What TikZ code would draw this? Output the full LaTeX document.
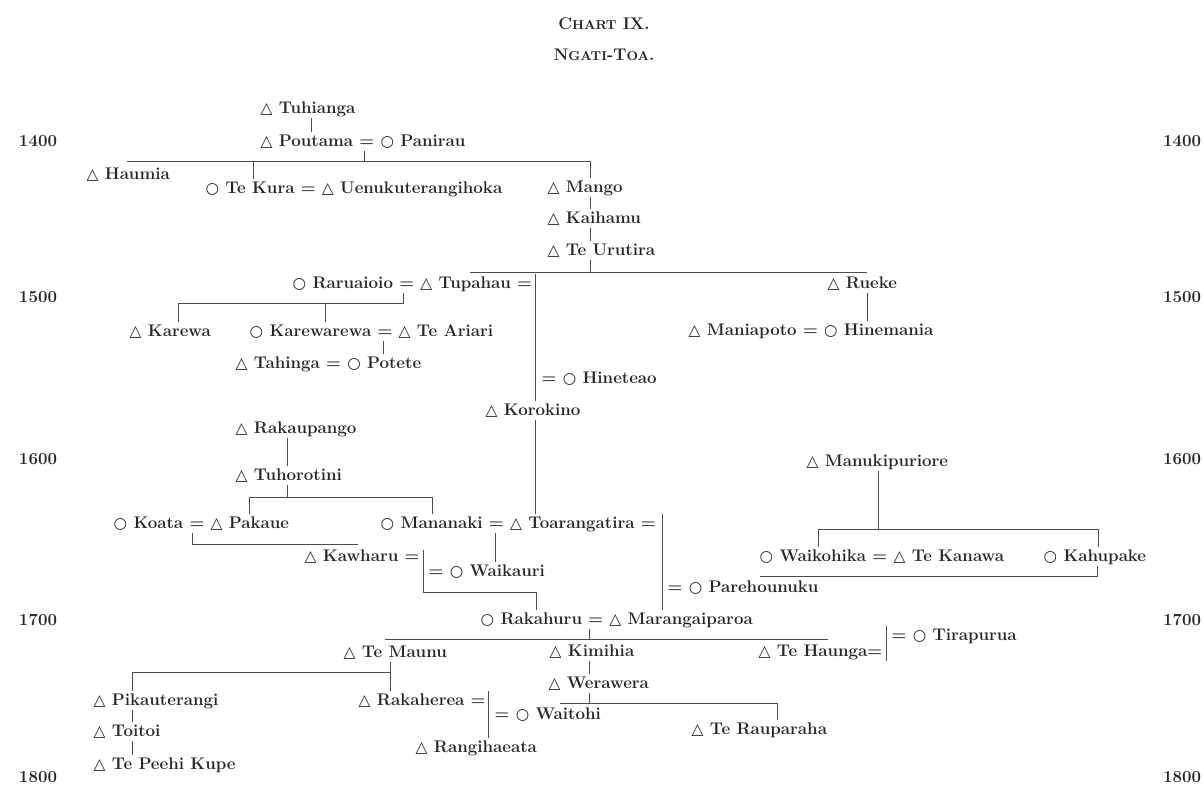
\documentclass[tikz,border=0pt]{standalone}
\usepackage{fontspec}
\newfontfamily\symf{DejaVu Sans}
% male and female marks
\newcommand{\mal}{{\symf\fontsize{11}{11}\selectfont △}}
\newcommand{\fem}{{\symf\fontsize{11}{11}\selectfont ○}}
\newcommand{\scbig}{\fontsize{12}{14}\selectfont\bfseries}
\newcommand{\scsmall}{\fontsize{9.2}{11}\selectfont\bfseries}
\tikzset{
  person/.style={anchor=base west, inner sep=1pt, text height=8.5pt, text depth=2.5pt,
    font=\fontsize{12}{14}\selectfont\bfseries, text=black!85},
  year/.style={font=\fontsize{12}{14}\selectfont\bfseries, text=black!85},
  rel/.style={black!70, line width=0.6pt},
}

\begin{document}
\begin{tikzpicture}[x=0.025cm, y=-0.025cm]
    \useasboundingbox (0,0) rectangle (1204,784);
    % Heading
        \node[text=black!85] (chart) at (604,24) {\scbig C{\scsmall HART} IX.};
        \node[text=black!85] (tribe) at (604,55) {\scbig N{\scsmall GATI}-T{\scsmall OA}.};
    % Years, both margins
        \foreach \yr/\yy in {1400/141, 1500/297, 1600/459, 1700/620, 1800/777} {
            \node[year] (l\yr) at (38,\yy) {\yr};
            \node[year] (r\yr) at (1182,\yy) {\yr};
        }
    % Below nodes are the people.
        \node[person] (tuhianga) at (259,113) {\mal\ Tuhianga};
        \node[person] (poutama) at (259,146) {\mal\ Poutama = \fem\ Panirau};
        \node[person] (haumia) at (85,179) {\mal\ Haumia};
        \node[person] (tekura) at (204,193) {\fem\ Te Kura = \mal\ Uenukuterangihoka};
        \node[person] (mango) at (546,192) {\mal\ Mango};
        \node[person] (kaihamu) at (546,223) {\mal\ Kaihamu};
        \node[person] (teurutira) at (546,255) {\mal\ Te Urutira};
        \node[person] (tupahau) at (291,288) {\fem\ Raruaioio = \mal\ Tupahau =};
        \node[person] (rueke) at (826,288) {\mal\ Rueke};
        \node[person] (karewa) at (128,336) {\mal\ Karewa};
        \node[person] (karewarewa) at (248,336) {\fem\ Karewarewa = \mal\ Te Ariari};
        \node[person] (maniapoto) at (687,335) {\mal\ Maniapoto = \fem\ Hinemania};
        \node[person] (tahinga) at (234,368) {\mal\ Tahinga = \fem\ Potete};
        \node[person] (hineteao) at (540,383) {= \fem\ Hineteao};
        \node[person] (korokino) at (484,415) {\mal\ Korokino};
        \node[person] (rakaupango) at (234,433) {\mal\ Rakaupango};
        \node[person] (tuhorotini) at (234,480) {\mal\ Tuhorotini};
        \node[person] (manukipuriore) at (805,466) {\mal\ Manukipuriore};
        \node[person] (koata) at (112,528) {\fem\ Koata = \mal\ Pakaue};
        \node[person] (mananaki) at (379,528) {\fem\ Mananaki = \mal\ Toarangatira =};
        \node[person] (kawharu) at (303,561) {\mal\ Kawharu =};
        \node[person] (waikauri) at (427,576) {= \fem\ Waikauri};
        \node[person] (waikohika) at (758,561) {\fem\ Waikohika = \mal\ Te Kanawa};
        \node[person] (kahupake) at (1042,561) {\fem\ Kahupake};
        \node[person] (parehounuku) at (666,592) {= \fem\ Parehounuku};
        \node[person] (rakahuru) at (479,624) {\fem\ Rakahuru = \mal\ Marangaiparoa};
        \node[person] (tirapurua) at (890,640) {= \fem\ Tirapurua};
        \node[person] (temaunu) at (342,657) {\mal\ Te Maunu};
        \node[person] (kimihia) at (548,656) {\mal\ Kimihia};
        \node[person] (tehaunga) at (757,656) {\mal\ Te Haunga=};
        \node[person] (werawera) at (547,688) {\mal\ Werawera};
        \node[person] (pikauterangi) at (92,705) {\mal\ Pikauterangi};
        \node[person] (rakaherea) at (357,705) {\mal\ Rakaherea =};
        \node[person] (waitohi) at (493,719) {= \fem\ Waitohi};
        \node[person] (terauparaha) at (690,734) {\mal\ Te Rauparaha};
        \node[person] (toitoi) at (92,736) {\mal\ Toitoi};
        \node[person] (rangihaeata) at (414,752) {\mal\ Rangihaeata};
        \node[person] (tepeehikupe) at (92,769) {\mal\ Te Peehi Kupe};
    % Descent lines.
        % Tuhianga, Poutama and their children
            \coordinate (a1) at (311,0);
            \draw[rel] (a1 |- tuhianga.south) -- (a1 |- poutama.north);
            \coordinate (b0) at (127,161);
            \coordinate (b1) at (364,161);
            \coordinate (b2) at (590,161);
            \coordinate (b3) at (253,161);
            \draw[rel] (b1 |- poutama.south) -- (b1);
            \draw[rel] (b0) -- (b2);
            \draw[rel] (b3) -- (b3 |- tekura.north);
            \draw[rel] (b2) -- (b2 |- mango.north);
            \draw[rel] (b2 |- mango.south) -- (b2 |- kaihamu.north);
            \draw[rel] (b2 |- kaihamu.south) -- (b2 |- teurutira.north);
        % Te Urutira's children
            \coordinate (c0) at (470,272);
            \coordinate (c1) at (867,272);
            \draw[rel] (b2 |- teurutira.south) -- (b2 |- c0);
            \draw[rel] (c0) -- (c1);
            \draw[rel] (c1 |- rueke.south) -- (c1 |- maniapoto.north);
        % Tupahau's second line
            \coordinate (d1) at (535,0);
            \draw[rel] (d1 |- tupahau.north) -- (d1 |- korokino.north);
            \draw[rel] (d1 |- korokino.south) -- (d1 |- mananaki.north);
        % Raruaioio = Tupahau
            \coordinate (e0) at (178,303);
            \coordinate (e1) at (403,303);
            \coordinate (e2) at (325,303);
            \draw[rel] (e1 |- tupahau.south) -- (e1) -- (e0) -- (e0 |- karewa.north);
            \draw[rel] (e2) -- (e2 |- karewarewa.north);
            \coordinate (f1) at (383,0);
            \draw[rel] (f1 |- karewarewa.south) -- (f1 |- tahinga.north);
        % Rakaupango and Tuhorotini
            \coordinate (g0) at (249,497);
            \coordinate (g1) at (287,497);
            \coordinate (g2) at (432,497);
            \draw[rel] (g1 |- rakaupango.south) -- (g1 |- tuhorotini.north);
            \draw[rel] (g1 |- tuhorotini.south) -- (g1);
            \draw[rel] (g0 |- koata.north) -- (g0) -- (g2) -- (g2 |- mananaki.north);
        % Koata = Pakaue, then Kawharu
            \coordinate (h0) at (192,544);
            \coordinate (h1) at (358,544);
            \draw[rel] (h0 |- koata.south) -- (h0) -- (h1);
            \coordinate (i0) at (423,550);
            \coordinate (i1) at (423,592);
            \coordinate (i2) at (536,592);
            \draw[rel] (i0) -- (i1) -- (i2) -- (i2 |- rakahuru.north);
        % Mananaki = Toarangatira
            \coordinate (j1) at (495,0);
            \draw[rel] (j1 |- mananaki.south) -- (j1 |- waikauri.north);
            \coordinate (k1) at (662,0);
            \draw[rel] (k1 |- mananaki.north) -- (k1 |- rakahuru.north);
        % Rakahuru = Marangaiparoa
            \coordinate (l0) at (385,639);
            \coordinate (l1) at (589,639);
            \coordinate (l2) at (828,639);
            \draw[rel] (l1 |- rakahuru.south) -- (l1);
            \draw[rel] (l0) -- (l2);
            \coordinate (p1) at (886,0);
            \draw[rel] (p1 |- tirapurua.north) -- (p1 |- tehaunga.south);
        % Te Maunu's line
            \coordinate (m0) at (132,672);
            \coordinate (m1) at (390,672);
            \draw[rel] (m1 |- temaunu.south) -- (m1 |- rakaherea.north);
            \draw[rel] (m1) -- (m0) -- (m0 |- pikauterangi.north);
            \draw[rel] (m0 |- pikauterangi.south) -- (m0 |- toitoi.north);
            \draw[rel] (m0 |- toitoi.south) -- (m0 |- tepeehikupe.north);
            \coordinate (o1) at (488,0);
            \draw[rel] (o1 |- rakaherea.north) -- (o1 |- rangihaeata.north);
        % Kimihia, Werawera, Te Rauparaha
            \coordinate (n0) at (560,703);
            \coordinate (n1) at (589,703);
            \coordinate (n2) at (777,703);
            \draw[rel] (n1 |- kimihia.south) -- (n1 |- werawera.north);
            \draw[rel] (n1 |- werawera.south) -- (n1);
            \draw[rel] (n0) -- (n2) -- (n2 |- terauparaha.north);
        % Manukipuriore
            \coordinate (q0) at (818,529);
            \coordinate (q1) at (878,529);
            \coordinate (q2) at (1098,529);
            \draw[rel] (q1 |- manukipuriore.south) -- (q1);
            \draw[rel] (q0 |- waikohika.north) -- (q0) -- (q2) -- (q2 |- kahupake.north);
            \coordinate (r0) at (760,576);
            \coordinate (r1) at (1097,576);
            \draw[rel] (r0) -- (r1) -- (r1 |- kahupake.south);
\end{tikzpicture}
\end{document}
